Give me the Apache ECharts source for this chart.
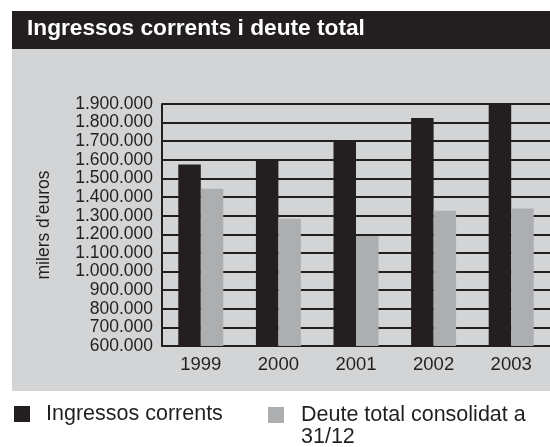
<!DOCTYPE html>
<html>
<head>
<meta charset="utf-8">
<script src="https://cdn.jsdelivr.net/npm/echarts@6/dist/echarts.min.js"></script>
<style>
  html, body { margin: 0; padding: 0; background: #fff; }
  #chart { width: 550px; height: 447px; }
</style>
</head>
<body>
<div id="chart"></div>
<script>
// dades
const years = ['1999', '2000', '2001', '2002', '2003'];
const ingressos = [1575000, 1602000, 1700000, 1825000, 1900000];
const deute = [1445000, 1284000, 1191000, 1327000, 1338000];
const yMin = 600000;
const yMax = 1900000;
const yStep = 100000;

const dark = '#231f20';
const grey = '#adaeb0';
const panel = '#d3d4d6';
const font = "'Liberation Sans', Arial, sans-serif";

// 1900000 -> 1.900.000
function dots(v) {
  return String(v).replace(/\B(?=(\d{3})+(?!\d))/g, '.');
}

const chart = echarts.init(document.getElementById('chart'));

const option = {
  animation: false,
  backgroundColor: '#fff',
  textStyle: { fontFamily: font },
  graphic: [
    // fons gris
    { type: 'rect', z: -10, shape: { x: 12, y: 48, width: 538, height: 343 }, style: { fill: panel } },
    // barra del títol
    { type: 'rect', z: -10, shape: { x: 12, y: 11, width: 538, height: 38 }, style: { fill: dark } }
  ],
  title: {
    text: 'Ingressos corrents i deute total',
    left: 27,
    top: 17,
    padding: 0,
    textStyle: { color: '#fff', fontSize: 22.7, fontWeight: 'bold', fontFamily: font }
  },
  legend: [
    {
      data: ['Ingressos corrents'],
      left: 14,
      top: 403,
      padding: 0,
      itemWidth: 16,
      itemHeight: 16,
      icon: 'rect',
      textStyle: { color: dark, fontSize: 21.5, fontFamily: font, padding: [0, 0, 0, 11] }
    },
    {
      // línia buida al davant perquè la primera línia quedi centrada amb la icona
      data: ['Deute total consolidat a 31/12'],
      left: 268,
      top: 382,
      padding: 0,
      itemWidth: 16,
      itemHeight: 16,
      icon: 'rect',
      formatter: function () { return ' \nDeute total consolidat a\n31/12'; },
      textStyle: { color: dark, fontSize: 21.5, lineHeight: 22, fontFamily: font, padding: [0, 0, 0, 12] }
    }
  ],
  grid: { left: 162, top: 104, right: 0, bottom: 101, containLabel: false },
  xAxis: {
    type: 'category',
    data: years,
    axisLine: { lineStyle: { color: dark, width: 2 } },
    axisTick: { show: false },
    axisLabel: { color: dark, fontSize: 18.5, margin: 9, fontFamily: font }
  },
  yAxis: {
    type: 'value',
    min: yMin,
    max: yMax,
    interval: yStep,
    name: 'milers d\u2019euros',
    nameLocation: 'middle',
    nameRotate: 90,
    nameGap: 109,
    nameTextStyle: { color: dark, fontSize: 17.5, fontFamily: font },
    axisLine: { show: true, lineStyle: { color: dark, width: 2 } },
    axisTick: { show: false },
    axisLabel: { color: dark, fontSize: 17.5, margin: 9, fontFamily: font, formatter: dots },
    splitLine: { lineStyle: { color: dark, width: 2 } }
  },
  series: [
    {
      name: 'Ingressos corrents',
      type: 'bar',
      data: ingressos,
      barWidth: 22.5,
      barGap: 0,
      itemStyle: { color: dark }
    },
    {
      name: 'Deute total consolidat a 31/12',
      type: 'bar',
      data: deute,
      barWidth: 22.5,
      barGap: 0,
      itemStyle: { color: grey }
    }
  ]
};

chart.setOption(option);
</script>
</body>
</html>
